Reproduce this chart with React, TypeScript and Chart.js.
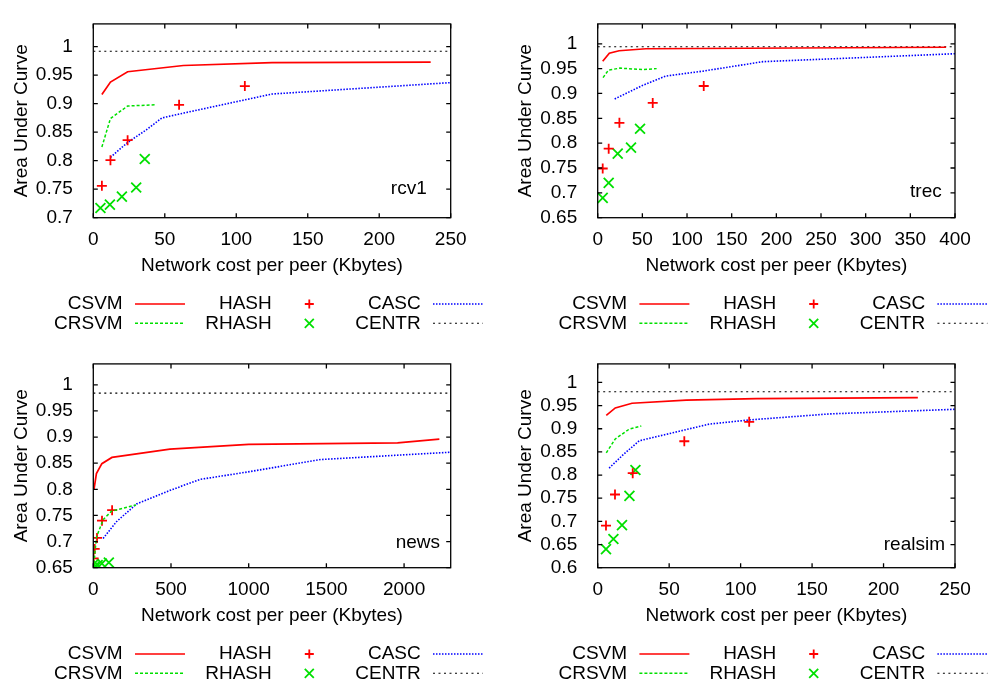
import React, { useEffect, useRef } from "react";
import { Chart, registerables } from "chart.js";

Chart.register(...registerables);

const FONT = "'Liberation Sans', Arial, Helvetica, sans-serif";
const FS = 19;
const RED = "#ff0000";
const GREEN = "#00e000";
const BLUE = "#0000ff";
const BLACK = "#000000";

const SERIES_NAMES = ["CSVM", "CRSVM", "HASH", "RHASH", "CASC", "CENTR"];

// ---------- rcv1 ----------
const rcv1XTicks = [0, 50, 100, 150, 200, 250];
const rcv1YTicks = [0.7, 0.75, 0.8, 0.85, 0.9, 0.95, 1];
const rcv1XRange = [0, 250];
const rcv1YRange = [0.7, 1.04];
const rcv1CsvmX = [6, 12, 24, 63, 125, 236];
const rcv1CsvmY = [0.916, 0.938, 0.956, 0.967, 0.972, 0.973];
const rcv1CrsvmX = [6, 12, 24, 43];
const rcv1CrsvmY = [0.824, 0.874, 0.896, 0.898];
const rcv1HashX = [6, 12, 24, 60, 106];
const rcv1HashY = [0.756, 0.801, 0.836, 0.898, 0.931];
const rcv1RhashX = [5, 11.6, 20, 30, 36];
const rcv1RhashY = [0.717, 0.723, 0.737, 0.753, 0.803];
const rcv1CascX = [12, 24, 37, 48, 64, 125, 250];
const rcv1CascY = [0.806, 0.832, 0.854, 0.875, 0.884, 0.917, 0.937];
const rcv1CentrX = [0, 250];
const rcv1CentrY = [0.992, 0.992];

// ---------- trec ----------
const trecXTicks = [0, 50, 100, 150, 200, 250, 300, 350, 400];
const trecYTicks = [0.65, 0.7, 0.75, 0.8, 0.85, 0.9, 0.95, 1];
const trecXRange = [0, 400];
const trecYRange = [0.65, 1.04];
const trecCsvmX = [5.6, 13, 24, 54, 390];
const trecCsvmY = [0.965, 0.981, 0.986, 0.99, 0.993];
const trecCrsvmX = [6, 12, 25, 51, 66];
const trecCrsvmY = [0.932, 0.947, 0.951, 0.948, 0.95];
const trecHashX = [5.6, 12.3, 24.3, 61.6, 118.7];
const trecHashY = [0.749, 0.789, 0.841, 0.881, 0.915];
const trecRhashX = [5.6, 12.3, 22.4, 37.3, 47.4];
const trecRhashY = [0.69, 0.72, 0.779, 0.791, 0.829];
const trecCascX = [19, 50, 76, 118, 185, 400];
const trecCascY = [0.889, 0.916, 0.935, 0.945, 0.964, 0.98];
const trecCentrX = [0, 400];
const trecCentrY = [0.994, 0.994];

// ---------- news ----------
const newsXTicks = [0, 500, 1000, 1500, 2000];
const newsYTicks = [0.65, 0.7, 0.75, 0.8, 0.85, 0.9, 0.95, 1];
const newsXRange = [0, 2300];
const newsYRange = [0.65, 1.04];
const newsCsvmX = [4, 20, 55, 120, 493, 1000, 1958, 2227];
const newsCsvmY = [0.799, 0.83, 0.849, 0.861, 0.877, 0.886, 0.889, 0.896];
const newsCrsvmX = [4, 20, 63, 117, 275];
const newsCrsvmY = [0.658, 0.708, 0.742, 0.758, 0.77];
const newsHashX = [2, 9, 24, 56, 121];
const newsHashY = [0.668, 0.686, 0.707, 0.74, 0.76];
const newsRhashX = [3, 12, 28, 55, 100];
const newsRhashY = [0.657, 0.653, 0.655, 0.658, 0.66];
const newsCascX = [63, 149, 278, 494, 687, 989, 1463, 2300];
const newsCascY = [0.706, 0.738, 0.772, 0.798, 0.819, 0.833, 0.857, 0.871];
const newsCentrX = [0, 2300];
const newsCentrY = [0.984, 0.984];

// ---------- realsim ----------
const realsimXTicks = [0, 50, 100, 150, 200, 250];
const realsimYTicks = [0.6, 0.65, 0.7, 0.75, 0.8, 0.85, 0.9, 0.95, 1];
const realsimXRange = [0, 250];
const realsimYRange = [0.6, 1.04];
const realsimCsvmX = [6, 12.3, 24, 62, 111, 224];
const realsimCsvmY = [0.929, 0.945, 0.955, 0.962, 0.965, 0.967];
const realsimCrsvmX = [6, 12.3, 22, 30.5];
const realsimCrsvmY = [0.848, 0.878, 0.899, 0.906];
const realsimHashX = [5.8, 12.1, 24.5, 60.6, 106];
const realsimHashY = [0.691, 0.758, 0.804, 0.873, 0.915];
const realsimRhashX = [5.8, 11, 17, 22.2, 26.4];
const realsimRhashY = [0.64, 0.662, 0.692, 0.755, 0.811];
const realsimCascX = [8, 17.5, 29, 78, 106, 162, 250];
const realsimCascY = [0.815, 0.843, 0.874, 0.91, 0.919, 0.932, 0.942];
const realsimCentrX = [0, 250];
const realsimCentrY = [0.98, 0.98];

const pts = (x: number[], y: number[]) => x.map((v, i) => ({ x: v, y: y[i] }));

interface PanelData {
  name: string;
  xTicks: number[];
  yTicks: number[];
  xRange: number[];
  yRange: number[];
  series: [number[], number[]][];
}

const PANELS: PanelData[] = [
  {
    name: "rcv1", xTicks: rcv1XTicks, yTicks: rcv1YTicks, xRange: rcv1XRange, yRange: rcv1YRange,
    series: [[rcv1CsvmX, rcv1CsvmY], [rcv1CrsvmX, rcv1CrsvmY], [rcv1HashX, rcv1HashY], [rcv1RhashX, rcv1RhashY], [rcv1CascX, rcv1CascY], [rcv1CentrX, rcv1CentrY]],
  },
  {
    name: "trec", xTicks: trecXTicks, yTicks: trecYTicks, xRange: trecXRange, yRange: trecYRange,
    series: [[trecCsvmX, trecCsvmY], [trecCrsvmX, trecCrsvmY], [trecHashX, trecHashY], [trecRhashX, trecRhashY], [trecCascX, trecCascY], [trecCentrX, trecCentrY]],
  },
  {
    name: "news", xTicks: newsXTicks, yTicks: newsYTicks, xRange: newsXRange, yRange: newsYRange,
    series: [[newsCsvmX, newsCsvmY], [newsCrsvmX, newsCrsvmY], [newsHashX, newsHashY], [newsRhashX, newsRhashY], [newsCascX, newsCascY], [newsCentrX, newsCentrY]],
  },
  {
    name: "realsim", xTicks: realsimXTicks, yTicks: realsimYTicks, xRange: realsimXRange, yRange: realsimYRange,
    series: [[realsimCsvmX, realsimCsvmY], [realsimCrsvmX, realsimCrsvmY], [realsimHashX, realsimHashY], [realsimRhashX, realsimRhashY], [realsimCascX, realsimCascY], [realsimCentrX, realsimCentrY]],
  },
];

// layout (pixels), per panel
interface Box {
  x: number; y: number; w: number; h: number;
  left: number; right: number; top: number; bottom: number;
  nameDx: number; nameDy: number;
}
const BOXES: Box[] = [
  { x: 0, y: 0, w: 498, h: 340, left: 93.3, right: 450.7, top: 13.3, bottom: 217.7, nameDx: 24, nameDy: 29.4 },
  { x: 498, y: 0, w: 498, h: 340, left: 99.7, right: 457, top: 13.3, bottom: 217.7, nameDx: 13.3, nameDy: 26 },
  { x: 0, y: 340, w: 498, h: 341, left: 93.3, right: 450.7, top: 23.3, bottom: 227.7, nameDx: 10.7, nameDy: 25.4 },
  { x: 498, y: 340, w: 498, h: 341, left: 99.7, right: 457, top: 23.3, bottom: 227.7, nameDx: 10, nameDy: 22.7 },
];

const STYLES = [
  { color: RED, line: true, dash: [] as number[], width: 1.7 },
  { color: GREEN, line: true, dash: [3, 2], width: 1.5 },
  { color: RED, line: false, style: "cross", radius: 5, width: 1.8 },
  { color: GREEN, line: false, style: "crossRot", radius: 7, width: 1.8 },
  { color: BLUE, line: true, dash: [1.5, 1.5], width: 1.6 },
  { color: BLACK, line: true, dash: [2, 3.5], width: 1.1 },
];

const X_TITLE_H = 48 + FS * 0.6;

function Panel({ data, box }: { data: PanelData; box: Box }) {
  const ref = useRef<HTMLCanvasElement>(null);
  useEffect(() => {
    const datasets: any[] = data.series.map((s, i) => {
      const st: any = STYLES[i];
      const base: any = {
        label: SERIES_NAMES[i],
        data: pts(s[0], s[1]),
        borderColor: st.color,
        backgroundColor: st.color,
        borderWidth: st.width,
        tension: 0,
      };
      if (st.line) {
        return { ...base, showLine: true, pointRadius: 0, borderDash: st.dash };
      }
      return { ...base, showLine: false, pointStyle: st.style, pointRadius: st.radius, pointBorderWidth: st.width, pointBorderColor: st.color };
    });

    const decor = {
      id: "decor",
      afterDraw(chart: any) {
        const { ctx, chartArea: a } = chart;
        const xs = chart.scales.x;
        const ys = chart.scales.y;
        ctx.save();
        ctx.setLineDash([]);
        ctx.strokeStyle = BLACK;
        ctx.lineWidth = 1.3;
        ctx.strokeRect(a.left, a.top, a.right - a.left, a.bottom - a.top);
        const T = 4.5;
        ctx.beginPath();
        xs.ticks.forEach((t: any) => {
          const p = xs.getPixelForValue(t.value);
          ctx.moveTo(p, a.bottom); ctx.lineTo(p, a.bottom - T);
          ctx.moveTo(p, a.top); ctx.lineTo(p, a.top + T);
        });
        ys.ticks.forEach((t: any) => {
          const p = ys.getPixelForValue(t.value);
          ctx.moveTo(a.left, p); ctx.lineTo(a.left + T, p);
          ctx.moveTo(a.right, p); ctx.lineTo(a.right - T, p);
        });
        ctx.stroke();

        ctx.font = `${FS}px ${FONT}`;
        ctx.fillStyle = BLACK;
        ctx.textAlign = "right";
        ctx.textBaseline = "middle";
        ctx.fillText(data.name, a.right - box.nameDx, a.bottom - box.nameDy);

        chart.data.datasets.forEach((d: any, i: number) => {
          const col = Math.floor(i / 2);
          const row = i % 2;
          const rx = a.left + 29.4 + col * 149;
          const ry = a.bottom + 86.3 + row * 19.3;
          ctx.fillStyle = BLACK;
          ctx.fillText(d.label, rx, ry);
          ctx.strokeStyle = d.borderColor;
          ctx.lineWidth = d.borderWidth;
          if (d.showLine) {
            ctx.setLineDash(d.borderDash || []);
            ctx.beginPath();
            ctx.moveTo(rx + 12.3, ry);
            ctx.lineTo(rx + 62.3, ry);
            ctx.stroke();
          } else {
            ctx.setLineDash([]);
            const cx = rx + 37.6;
            const r = 4.5;
            ctx.beginPath();
            if (d.pointStyle === "cross") {
              ctx.moveTo(cx - r, ry); ctx.lineTo(cx + r, ry);
              ctx.moveTo(cx, ry - r); ctx.lineTo(cx, ry + r);
            } else {
              ctx.moveTo(cx - r, ry - r); ctx.lineTo(cx + r, ry + r);
              ctx.moveTo(cx - r, ry + r); ctx.lineTo(cx + r, ry - r);
            }
            ctx.stroke();
          }
        });
        ctx.restore();
      },
    };

    const fmt = (v: any) => String(+Number(v).toFixed(2));

    const chart = new Chart(ref.current as HTMLCanvasElement, {
      type: "scatter",
      data: { datasets },
      plugins: [decor],
      options: {
        responsive: false,
        animation: false,
        devicePixelRatio: 1,
        events: [],
        layout: {
          padding: {
            left: 0,
            top: box.top,
            right: box.w - box.right,
            bottom: box.h - box.bottom - X_TITLE_H,
          },
        },
        plugins: { legend: { display: false }, tooltip: { enabled: false } },
        scales: {
          x: {
            type: "linear",
            min: data.xRange[0],
            max: data.xRange[1],
            grid: { display: false },
            border: { display: false },
            afterBuildTicks: (s: any) => { s.ticks = data.xTicks.map((v) => ({ value: v })); },
            afterFit: (s: any) => { s.height = X_TITLE_H; },
            ticks: { padding: 2.5, color: BLACK, font: { family: FONT, size: FS }, callback: fmt, maxRotation: 0, autoSkip: false },
            title: { display: true, text: "Network cost per peer (Kbytes)", color: BLACK, font: { family: FONT, size: FS }, padding: { top: 0, bottom: 0 } },
          },
          y: {
            type: "linear",
            min: data.yRange[0],
            max: data.yRange[1],
            grid: { display: false },
            border: { display: false },
            afterBuildTicks: (s: any) => { s.ticks = data.yTicks.map((v) => ({ value: v })); },
            afterFit: (s: any) => { s.width = box.left; },
            ticks: { padding: 12.5, color: BLACK, font: { family: FONT, size: FS }, callback: fmt, autoSkip: false },
            title: { display: true, text: "Area Under Curve", color: BLACK, font: { family: FONT, size: FS }, padding: { top: box.left - 71.6 - FS * 0.6, bottom: 0 } },
          },
        },
      } as any,
    });
    return () => chart.destroy();
  }, []);
  return (
    <canvas
      ref={ref}
      width={box.w}
      height={box.h}
      style={{ position: "absolute", left: box.x, top: box.y, width: box.w, height: box.h }}
    />
  );
}

export default function App() {
  return (
    <div style={{ position: "absolute", left: 0, top: 0, width: 996, height: 681, background: "#fff", overflow: "hidden" }}>
      {PANELS.map((p, i) => (
        <Panel key={p.name} data={p} box={BOXES[i]} />
      ))}
    </div>
  );
}
